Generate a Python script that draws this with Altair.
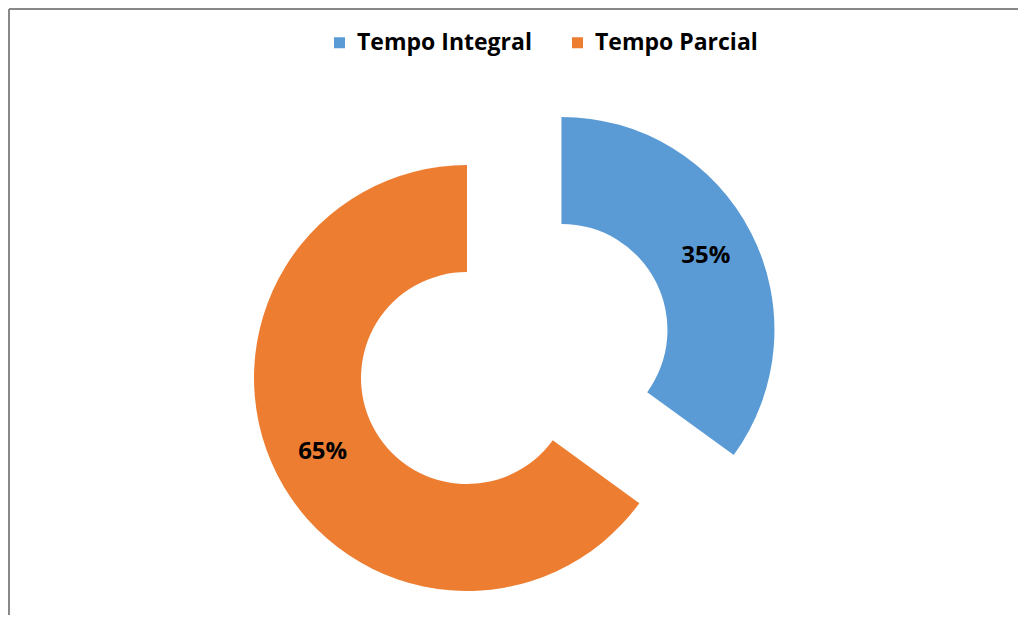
import altair as alt
import pandas as pd

categories = ["Tempo Integral", "Tempo Parcial"]
values = [35, 65]
labels = ["35%", "65%"]
colors = ["#5B9BD5", "#ED7D31"]

CX, CY = 458, 369
EXPLODE = 106
R_IN, R_OUT = 106, 213
R_LABEL = 162
W, H = 1009, 606

df = pd.DataFrame({"idx": list(range(len(categories))), "category": categories,
                   "value": values, "label": labels})

base = alt.Chart(df).transform_joinaggregate(
    total="sum(value)"
).transform_window(
    cum="sum(value)", sort=[alt.SortField("idx")], frame=[None, 0]
).transform_calculate(
    t0="2*PI*(datum.cum - datum.value)/datum.total",
    t1="2*PI*datum.cum/datum.total",
).transform_calculate(
    mid="(datum.t0 + datum.t1)/2",
    ex=f"datum.category == 'Tempo Integral' ? {EXPLODE} : 0",
).transform_calculate(
    cx=f"{CX} + datum.ex*sin(datum.mid)",
    cy=f"{CY} - datum.ex*cos(datum.mid)",
).transform_calculate(
    lx=f"datum.cx + {R_LABEL}*sin(datum.mid)",
    ly=f"datum.cy - {R_LABEL}*cos(datum.mid)",
)

arcs = base.mark_arc(innerRadius=R_IN, outerRadius=R_OUT).encode(
    theta=alt.Theta("t0:Q", scale=None),
    theta2="t1:Q",
    x=alt.X("cx:Q", scale=None),
    y=alt.Y("cy:Q", scale=None),
    color=alt.Color(
        "category:N",
        scale=alt.Scale(domain=categories, range=colors),
        legend=alt.Legend(
            title=None, orient="none", direction="horizontal",
            legendX=319, legendY=22,
            symbolType="square", symbolSize=121, symbolStrokeWidth=0,
            labelFont="Open Sans", labelFontSize=23, labelFontWeight="bold",
            labelColor="#000000", columnPadding=34, symbolOffset=0,
            labelOffset=6, labelLimit=0,
        ),
    ),
)

text = base.mark_text(font="Open Sans", fontSize=24, fontWeight="bold",
                      color="#000000", align="center", baseline="middle").encode(
    x=alt.X("lx:Q", scale=None),
    y=alt.Y("ly:Q", scale=None),
    text="label:N",
)

border_left = alt.Chart(df).mark_rule(color="#888888", strokeWidth=2).encode(
    x=alt.value(0), y=alt.value(0), y2=alt.value(H + 20)
)
border_top = alt.Chart(df).mark_rule(color="#888888", strokeWidth=2).encode(
    y=alt.value(0), x=alt.value(0), x2=alt.value(W + 20)
)

chart = alt.layer(border_left, border_top, arcs, text).properties(
    width=W, height=H,
    padding={"left": 1, "top": 1, "right": 0, "bottom": 0},
    autosize="none",
).configure_view(stroke=None)

chart.save("out.html", embed_options={"renderer": "svg", "actions": False})
